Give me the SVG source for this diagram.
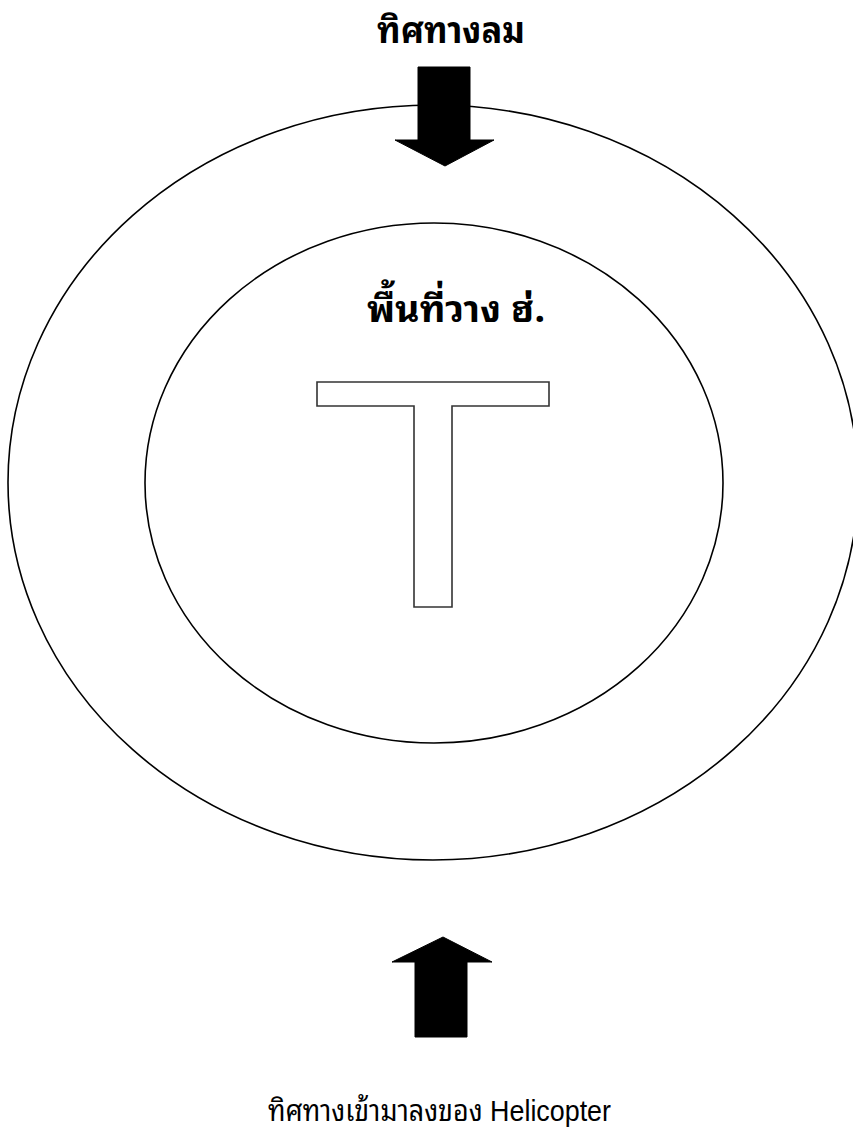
<svg xmlns="http://www.w3.org/2000/svg" width="853" height="1134" viewBox="0 0 853 1134">
<style>
.ring{fill:none;stroke:#000;stroke-width:1.6}
.arrow{fill:#000;stroke:#000;stroke-width:1;stroke-linejoin:round}
.t{fill:#fff;stroke:#333;stroke-width:1.6}
.th{font-family:"Noto Sans Thai Looped","Noto Serif Thai","Noto Sans Thai","DejaVu Sans",sans-serif;fill:#000}
.mix{font-family:"Liberation Sans","Noto Sans Thai Looped","Noto Serif Thai","Noto Sans Thai",sans-serif;fill:#000}
.b{font-weight:bold}
</style>
<rect width="853" height="1134" fill="#fff"/>
<g id="outer-ring"><ellipse class="ring" cx="433" cy="482.5" rx="425" ry="377.5"/></g>
<g id="inner-ring"><ellipse class="ring" cx="434" cy="483" rx="289" ry="260"/></g>
<g id="t-mark"><path class="t" d="M317,382 H549 V406 H452 V607 H414 V406 H317 Z"/></g>
<g id="connectors">
<path id="wind-arrow" class="arrow" d="M418,67 H470 V140 H494 L445,166 L395,140 H418 Z"/>
<path id="approach-arrow" class="arrow" d="M415,1037 H467 V962 H492 L443,937 L392,962 H415 Z"/>
</g>
<g id="label-wind"><text class="th b" x="377" y="43" font-size="36" textLength="148" lengthAdjust="spacingAndGlyphs">ทิศทางลม</text></g>
<g id="label-pad"><text class="th b" x="367" y="322" font-size="37" textLength="178" lengthAdjust="spacingAndGlyphs">พื้นที่วาง ฮ่.</text></g>
<g id="label-approach"><text class="mix" x="268" y="1121" font-size="29.5" textLength="343" lengthAdjust="spacingAndGlyphs">ทิศทางเข้ามาลงของ Helicopter</text></g>
</svg>
